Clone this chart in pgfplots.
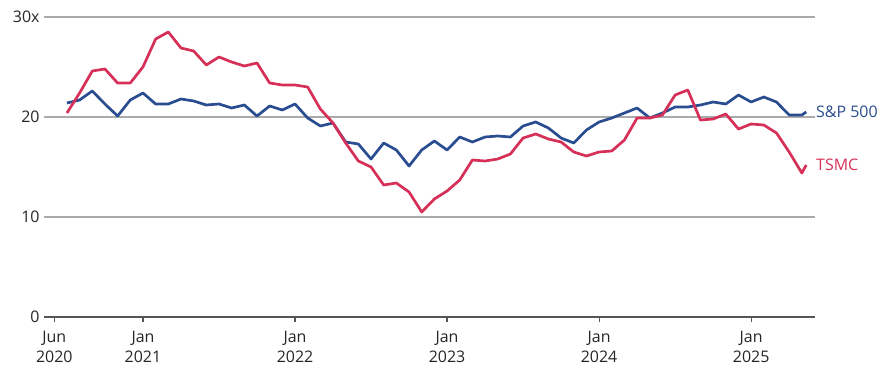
\documentclass[border=0pt]{standalone}
\usepackage{pgfplots}
\pgfplotsset{compat=1.18}
\usepackage{fontspec}
\setmainfont{Open Sans}
\definecolor{spblue}{RGB}{42,77,145}
\definecolor{tsred}{RGB}{214,48,88}
\definecolor{gridgray}{RGB}{170,170,170}
\definecolor{axgray}{RGB}{85,85,85}
\begin{document}
\begin{tikzpicture}
\useasboundingbox (-44bp,-58bp) rectangle (839bp,317bp);
\begin{axis}[
  scale only axis,
  width=771bp, height=300bp,
  xmin=4.19, xmax=65.04, ymin=0, ymax=30,
  axis lines*=left,
  x axis line style={draw=axgray, line width=1.2bp},
  y axis line style={draw=none},
  ytick={0,10,20,30},
  yticklabels={0,10,20,30x},
  ymajorgrids,
  grid style={draw=gridgray, line width=1.5bp},
  ytick style={draw=none},
  xtick={5,12,24,36,48,60},
  xticklabels={Jun\\2020,Jan\\2021,Jan\\2022,Jan\\2023,Jan\\2024,Jan\\2025},
  xticklabel style={align=center, font={\fontsize{16}{20}\selectfont}, text=black!85, yshift=-6bp},
  yticklabel style={font={\fontsize{16}{20}\selectfont}, text=black!85, xshift=4bp},
  xtick style={draw=axgray, line width=1.2bp},
  tick align=outside,
  major tick length=5bp,
  /pgf/number format/assume math mode=true,
  clip=false,
]
\addplot[spblue, line width=2.7bp, line join=round] coordinates {
(6,21.4)(7,21.7)(8,22.6)(9,21.3)(10,20.1)(11,21.7)(12,22.4)(13,21.3)(14,21.3)(15,21.8)
(16,21.6)(17,21.2)(18,21.3)(19,20.9)(20,21.2)(21,20.1)(22,21.1)(23,20.7)(24,21.3)(25,19.9)
(26,19.1)(27,19.4)(28,17.5)(29,17.3)(30,15.8)(31,17.4)(32,16.7)(33,15.1)(34,16.7)(35,17.6)
(36,16.7)(37,18.0)(38,17.5)(39,18.0)(40,18.1)(41,18.0)(42,19.1)(43,19.5)(44,18.9)(45,17.9)
(46,17.4)(47,18.7)(48,19.5)(49,19.9)(50,20.4)(51,20.9)(52,19.9)(53,20.4)(54,21.0)(55,21.0)
(56,21.2)(57,21.5)(58,21.3)(59,22.2)(60,21.5)(61,22.0)(62,21.5)(63,20.2)(64,20.2)(64.35,20.5)
};
\addplot[tsred, line width=2.7bp, line join=round] coordinates {
(6,20.4)(7,22.4)(8,24.6)(9,24.8)(10,23.4)(11,23.4)(12,25.0)(13,27.8)(14,28.5)(15,26.9)
(16,26.6)(17,25.2)(18,26.0)(19,25.5)(20,25.1)(21,25.4)(22,23.4)(23,23.2)(24,23.2)(25,23.0)
(26,20.8)(27,19.4)(28,17.4)(29,15.6)(30,15.0)(31,13.2)(32,13.4)(33,12.5)(34,10.5)(35,11.8)
(36,12.6)(37,13.7)(38,15.7)(39,15.6)(40,15.8)(41,16.3)(42,17.9)(43,18.3)(44,17.8)(45,17.5)
(46,16.5)(47,16.1)(48,16.5)(49,16.6)(50,17.7)(51,19.9)(52,19.9)(53,20.2)(54,22.2)(55,22.7)
(56,19.7)(57,19.8)(58,20.3)(59,18.8)(60,19.3)(61,19.2)(62,18.4)(63,16.5)(64,14.4)(64.35,15.2)
};
\node[anchor=west, inner sep=1bp, text=spblue, font={\fontsize{16}{20}\selectfont}] at (axis cs:65.04,20.5) {S\&P 500};
\node[anchor=west, inner sep=1bp, text=tsred, font={\fontsize{16}{20}\selectfont}] at (axis cs:65.04,15.2) {TSMC};
\end{axis}
\end{tikzpicture}
\end{document}
